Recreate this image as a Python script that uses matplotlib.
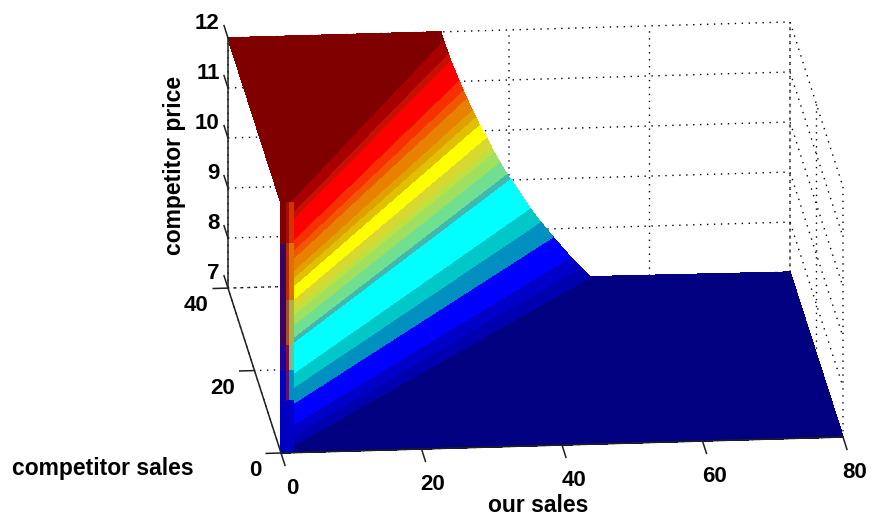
import numpy as np
import matplotlib
matplotlib.use("Agg")
import matplotlib.pyplot as plt
from matplotlib.colors import to_rgba_array
from mpl_toolkits.mplot3d import proj3d

plt.rcParams['font.family'] = ['Liberation Sans', 'DejaVu Sans']

# far edge of the sheet (our sales, competitor sales, price)
edge_x = [0, 30.3, 30.6, 31.3, 31.6, 32.8, 33.4, 33.9, 34.7, 35.2, 35.7, 36.7, 37.4, 37.8, 38.6, 39.6,
          40.1, 42.9, 44.4, 46.2, 48.7, 50.1, 51.5, 80, 80]
edge_y = [40, 40, 40, 40, 40, 40, 40, 40, 40, 40, 40, 40, 40, 40, 40, 40,
          40, 40, 40, 40, 40, 40, 40, 40, 0]
edge_z = [12, 12, 11.84, 11.58, 11.44, 11.03, 10.83, 10.67, 10.43, 10.29, 10.13, 9.87, 9.69, 9.57, 9.37, 9.13,
          9.03, 8.43, 8.15, 7.84, 7.43, 7.22, 7.02, 7, 7]
band_colors = ['#800000', '#800000', '#a80000', '#c81000', '#ff0000', '#f83000', '#f05800', '#e88000',
               '#e0a000', '#e0c000', '#ffff00', '#d8d830', '#c0e040', '#a0e060', '#70e090', '#40b8b0',
               '#00ffff', '#00c8c8', '#0090c0', '#0000ff', '#0000c8', '#0000b0', '#000080', '#000080']

# narrow strip at the front left corner
wall_x = [0, 0.6, 1.1, 1.8]
wall_z = [12, 11.2, 10.06, 9.16, 8.66, 8.06, 7]
wall_colors = [['#800000', '#a01000', '#d83000'],
               ['#400060', '#b03000', '#e07000'],
               ['#400060', '#a05030', '#b0b040'],
               ['#2000a0', '#801040', '#70c090'],
               ['#0000c0', '#601070', '#0090c0'],
               ['#0000c0', '#0000c0', '#0000c8']]

x_ticks = [0, 20, 40, 60, 80]
y_ticks = [0, 20, 40]
z_ticks = [7, 8, 9, 10, 11, 12]

fig = plt.figure(figsize=(8.75, 5.17), dpi=100)
ax = fig.add_subplot(projection='3d', computed_zorder=False)
ax.set_proj_type('ortho')
ax.view_init(elev=17.3, azim=-95.46)
ax.set_box_aspect((564.5, 557, 262))
ax.patch.set_visible(False)

# sheet as a fan from the corner out to the far edge
ex = np.array(edge_x, dtype=float)
X = np.vstack([np.zeros_like(ex), ex])
Y = np.vstack([np.zeros_like(ex), np.array(edge_y, dtype=float)])
Z = np.vstack([edge_z, edge_z])
fc = to_rgba_array(band_colors).reshape(1, -1, 4)
ax.plot_surface(X, Y, Z, facecolors=fc, rstride=1, cstride=1, shade=False, linewidth=0.4, antialiased=False, zorder=2)

WX, WZ = np.meshgrid(wall_x, wall_z)
wc = to_rgba_array(np.array(wall_colors).ravel()).reshape(len(wall_colors), 3, 4)
ax.plot_surface(WX, 0.02 * np.ones_like(WX), WZ, facecolors=wc, rstride=1, cstride=1, shade=False,
                linewidth=0.4, antialiased=False, zorder=3)

# axis lines and ticks
line = dict(color='#202020', lw=1.1, zorder=5)
ax.plot([0, 80], [0, 0], [7, 7], **line)
ax.plot([0, 0], [0, 40], [7, 7], **line)
ax.plot([0, 0], [40, 40], [7, 12], **line)
for t in x_ticks:
    ax.plot([t, t], [0, -3], [7, 7], **line)
for t in y_ticks:
    ax.plot([0, -2.1], [t, t], [7, 7], **line)
for t in z_ticks:
    ax.plot([0, 0], [40, 43], [t, t], **line)

for axis in (ax.xaxis, ax.yaxis, ax.zaxis):
    axis.set_pane_color((1, 1, 1, 0))
    axis.pane.set_edgecolor('none')
    axis.line.set_color('none')
    axis._axinfo['grid'].update(color='#000000', linestyle=(0, (1, 4)), linewidth=1.0)
ax.set_xticks(x_ticks)
ax.set_yticks(y_ticks)
ax.set_zticks(z_ticks)
ax.set_xticklabels([])
ax.set_yticklabels([])
ax.set_zticklabels([])
ax.tick_params(color='none')
ax.set_xlim(0, 80, view_margin=0)
ax.set_ylim(0, 40, view_margin=0)
ax.set_zlim(7, 12, view_margin=0)

# place the box so the front corner and x axis land where they are in the reference
W, H = 875, 517
u, v, _ = proj3d.proj_transform(np.array([0, 80.]), np.array([0, 0.]), np.array([7, 7.]), ax.get_proj())
a = ax.transLimits.transform(np.column_stack([u, v]))
S = 562 / (a[1, 0] - a[0, 0])
L = 281 - S * a[0, 0]
B = (H - 453) - S * a[0, 1]
ax.set_position([L / W, B / H, S / W, S / H])


def tick_text(x, y, z, s, ha):
    # text3D keeps its raw data position, so project it and use a plain 2d text
    p, q, _ = proj3d.proj_transform(x, y, z, ax.get_proj())
    ax.text2D(p, q, s, transform=ax.transData, fontsize=16, fontweight='bold', ha=ha, va='center')


for t in x_ticks:
    tick_text(t, -8.7, 7, str(t), 'center')
for t in y_ticks:
    tick_text(-2.8, t, 6.66, str(t), 'right')
for t in z_ticks:
    tick_text(-0.5, 43.5, t, str(t), 'right')

fig.text(538 / W, 1 - 506 / H, 'our sales', fontsize=16.5, fontweight='bold', ha='center', va='center')
fig.text(103 / W, 1 - 468 / H, 'competitor sales', fontsize=16.5, fontweight='bold', ha='center', va='center')
fig.text(175 / W, 1 - 165 / H, 'competitor price', fontsize=16.5, fontweight='bold', ha='center', va='center',
         rotation=90)

fig.savefig('out.png', dpi=100)
